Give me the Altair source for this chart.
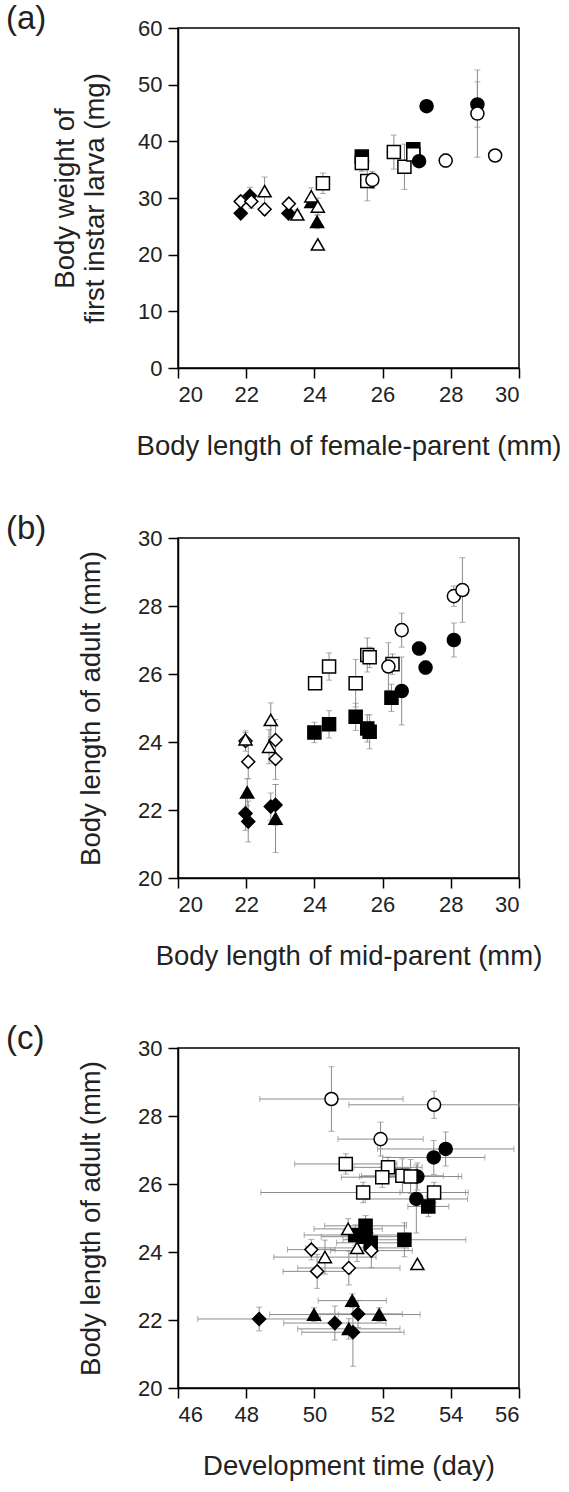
import altair as alt
import pandas as pd

FONT = "Liberation Sans"
GROUPS = ["fd", "od", "ft", "ot", "fs", "os", "fc", "oc"]
SHAPES = ["diamond", "diamond", "triangle-up", "triangle-up", "square", "square", "circle", "circle"]
FILLS = ["black", "white", "black", "white", "black", "white", "black", "white"]

# ---------------- Panel (a) ----------------
a_group = ["fd", "fd", "fd", "od", "od", "od", "od", "ft", "ft",
           "ot", "ot", "ot", "ot", "ot", "fs", "fs",
           "os", "os", "os", "os", "os", "os", "fc", "fc", "fc",
           "oc", "oc", "oc", "oc"]
a_x = [21.84, 22.11, 23.24, 21.84, 22.15, 22.54, 23.25, 23.91, 24.08,
       22.54, 23.50, 23.91, 24.10, 24.10, 25.39, 26.90,
       24.25, 25.39, 25.55, 26.33, 26.64, 26.90, 27.07, 27.29, 28.78,
       25.70, 27.85, 28.78, 29.30]
a_y = [27.3, 30.4, 27.3, 29.4, 29.4, 28.0, 29.0, 29.3, 25.8,
       31.2, 27.1, 30.3, 28.5, 21.8, 37.3, 38.6,
       32.6, 36.2, 33.0, 38.1, 35.5, 37.7, 36.5, 46.2, 46.5,
       33.2, 36.6, 44.9, 37.5]
a_ey = [0.8, 1.5, 0.8, 1.0, 1.2, 1.0, 0.8, 1.0, 1.2,
        2.5, 0.8, 1.5, 1.5, 0.5, 0.5, 0.5,
        1.8, 1.5, 3.5, 3.0, 4.0, 1.0, 0.5, 0.5, 4.0,
        1.5, 1.2, 7.7, 0.5]

# ---------------- Panel (b) ----------------
b_group = ["fd", "fd", "fd", "fd", "od", "od", "od", "od", "ft", "ft",
           "ot", "ot", "ot", "fs", "fs", "fs", "fs", "fs", "fs",
           "os", "os", "os", "os", "os", "os", "fc", "fc", "fc", "fc",
           "oc", "oc", "oc", "oc"]
b_x = [21.98, 22.06, 22.72, 22.86, 21.98, 22.06, 22.86, 22.86, 22.03, 22.86,
       21.98, 22.72, 22.67, 24.00, 24.43, 25.21, 25.55, 25.62, 26.26,
       24.02, 24.43, 25.21, 25.55, 25.62, 26.29, 26.56, 27.07, 27.26, 28.09,
       26.17, 26.56, 28.09, 28.34]
b_y = [21.90, 21.66, 22.10, 22.15, 24.03, 23.42, 24.06, 23.50, 22.52, 21.75,
       24.08, 24.65, 23.86, 24.28, 24.52, 24.74, 24.40, 24.30, 25.30,
       25.73, 26.22, 25.73, 26.56, 26.49, 26.29, 25.50, 26.75, 26.19, 27.00,
       26.22, 27.29, 28.29, 28.47]
b_ey = [0.5, 0.6, 0.4, 0.6, 0.3, 0.5, 0.6, 0.6, 0.4, 1.0,
        0.2, 0.5, 0.5, 0.3, 0.4, 0.4, 0.4, 0.5, 0.4,
        0.1, 0.4, 0.7, 0.5, 0.3, 0.3, 1.0, 0.2, 0.2, 0.5,
        0.7, 0.5, 0.3, 0.95]

# ---------------- Panel (c) ----------------
c_group = ["oc", "oc", "oc", "fc", "fc", "fc", "fc",
           "os", "os", "os", "os", "os", "os", "os",
           "fs", "fs", "fs", "fs", "fs", "fs",
           "ot", "ot", "ot", "ot", "od", "od", "od", "od",
           "ft", "ft", "ft", "ft", "fd", "fd", "fd", "fd"]
c_x = [50.50, 53.51, 51.94, 53.85, 53.50, 53.02, 52.99,
       50.92, 52.16, 51.99, 52.58, 51.43, 53.51, 52.82,
       51.50, 51.20, 51.50, 51.65, 52.64, 53.34,
       50.99, 51.25, 50.31, 53.02, 49.91, 51.67, 50.08, 51.01,
       51.11, 49.99, 51.01, 51.90, 48.38, 50.60, 51.28, 51.13]
c_y = [28.50, 28.33, 27.32, 27.03, 26.78, 26.22, 25.56,
       26.59, 26.49, 26.20, 26.24, 25.75, 25.75, 26.22,
       24.77, 24.50, 24.45, 24.27, 24.36, 25.34,
       24.68, 24.12, 23.85, 23.65, 24.07, 24.04, 23.43, 23.53,
       22.57, 22.16, 21.74, 22.16, 22.03, 21.91, 22.18, 21.64]
c_ex = [2.10, 2.50, 1.25, 2.00, 1.50, 1.20, 1.50,
        1.50, 1.00, 1.20, 1.20, 3.00, 1.00, 1.50,
        1.20, 1.50, 1.30, 1.00, 1.80, 0.60,
        1.00, 1.50, 1.50, 0.00, 0.70, 1.20, 1.00, 1.50,
        1.00, 1.30, 1.50, 1.20, 1.80, 1.50, 1.30, 1.50]
c_ey = [0.95, 0.40, 0.50, 0.50, 0.50, 0.40, 1.00,
        0.30, 0.30, 0.30, 0.50, 0.30, 0.30, 0.50,
        0.30, 0.30, 0.30, 0.30, 0.50, 0.30,
        0.30, 0.40, 0.50, 0.00, 0.30, 0.50, 0.50, 0.50,
        0.20, 0.20, 0.30, 0.20, 0.35, 0.50, 0.40, 1.00]

ERR = "#8c8c8c"
W, H = 341, 340


def make_df(g, x, y, ey, ex=None):
    df = pd.DataFrame({"g": g, "x": x, "y": y, "ey": ey})
    df["ylo"] = df["y"] - df["ey"]
    df["yhi"] = df["y"] + df["ey"]
    if ex is not None:
        df["ex"] = ex
        df["xlo"] = df["x"] - df["ex"]
        df["xhi"] = df["x"] + df["ex"]
    return df


def panel(df, xdom, ydom, xticks, yticks, xtitle, ytitle, label, ytx, xerr=False):
    base = alt.Chart(df)
    xs = alt.Scale(domain=xdom, nice=False, zero=False)
    ys = alt.Scale(domain=ydom, nice=False, zero=False)
    xax = alt.Axis(values=xticks, title=xtitle, titleY=78, titleBaseline="middle")
    yax = alt.Axis(values=yticks, title=ytitle, titleX=ytx, titleY=H / 2,
                   titleBaseline="middle", titleAlign="center")
    layers = []
    if xerr:
        layers.append(base.mark_rule(color=ERR, strokeWidth=1).encode(
            x=alt.X("xlo:Q", scale=xs, axis=xax), x2="xhi:Q",
            y=alt.Y("y:Q", scale=ys, axis=yax)))
        for f in ["xlo", "xhi"]:
            layers.append(base.mark_tick(color=ERR, thickness=1, size=6, orient="vertical").encode(
                x=alt.X(f + ":Q", scale=xs), y=alt.Y("y:Q", scale=ys)))
    layers.append(base.mark_rule(color=ERR, strokeWidth=1).encode(
        x=alt.X("x:Q", scale=xs, axis=xax),
        y=alt.Y("ylo:Q", scale=ys, axis=yax), y2="yhi:Q"))
    for f in ["ylo", "yhi"]:
        layers.append(base.mark_tick(color=ERR, thickness=1, size=6, orient="horizontal").encode(
            x=alt.X("x:Q", scale=xs), y=alt.Y(f + ":Q", scale=ys)))
    layers.append(base.mark_point(filled=True, size=170, stroke="black", strokeWidth=1.5,
                                  opacity=1, fillOpacity=1).encode(
        x=alt.X("x:Q", scale=xs, axis=xax),
        y=alt.Y("y:Q", scale=ys, axis=yax),
        shape=alt.Shape("g:N", scale=alt.Scale(domain=GROUPS, range=SHAPES), legend=None),
        fill=alt.Fill("g:N", scale=alt.Scale(domain=GROUPS, range=FILLS), legend=None)))
    layers.append(alt.Chart(pd.DataFrame({"t": [label]})).mark_text(
        font=FONT, fontSize=33, align="left", baseline="middle", color="#222").encode(
        text="t:N", x=alt.value(-172), y=alt.value(-9)))
    return alt.layer(*layers).properties(width=W, height=H)


pa = panel(make_df(a_group, a_x, a_y, a_ey), [20, 30], [0, 60], [20, 22, 24, 26, 28, 30],
           [0, 10, 20, 30, 40, 50, 60], "Body length of female-parent (mm)",
           ["Body weight of", "first instar larva (mg)"], "(a)", -113)
pb = panel(make_df(b_group, b_x, b_y, b_ey), [20, 30], [20, 30], [20, 22, 24, 26, 28, 30],
           [20, 22, 24, 26, 28, 30], "Body length of mid-parent (mm)",
           "Body length of adult (mm)", "(b)", -87)
pc = panel(make_df(c_group, c_x, c_y, c_ey, c_ex), [46, 56], [20, 30], [46, 48, 50, 52, 54, 56],
           [20, 22, 24, 26, 28, 30], "Development time (day)",
           "Body length of adult (mm)", "(c)", -87, xerr=True)

chart = alt.vconcat(pa, pb, pc, spacing=170, bounds="flush").properties(
    padding={"left": 5, "top": 2, "right": 5, "bottom": 5}
).configure_view(stroke="black", strokeWidth=1.5).configure_axis(
    grid=False, domainColor="black", domainWidth=1.5, tickColor="black", tickWidth=1.5,
    tickSize=10, labelFont=FONT, titleFont=FONT, labelFontSize=22, titleFontSize=27.5,
    labelColor="#222", titleColor="#222", titleFontWeight="normal", labelPadding=6,
    titleLineHeight=30
)

chart.save("out.html", embed_options={"renderer": "svg", "actions": False})
